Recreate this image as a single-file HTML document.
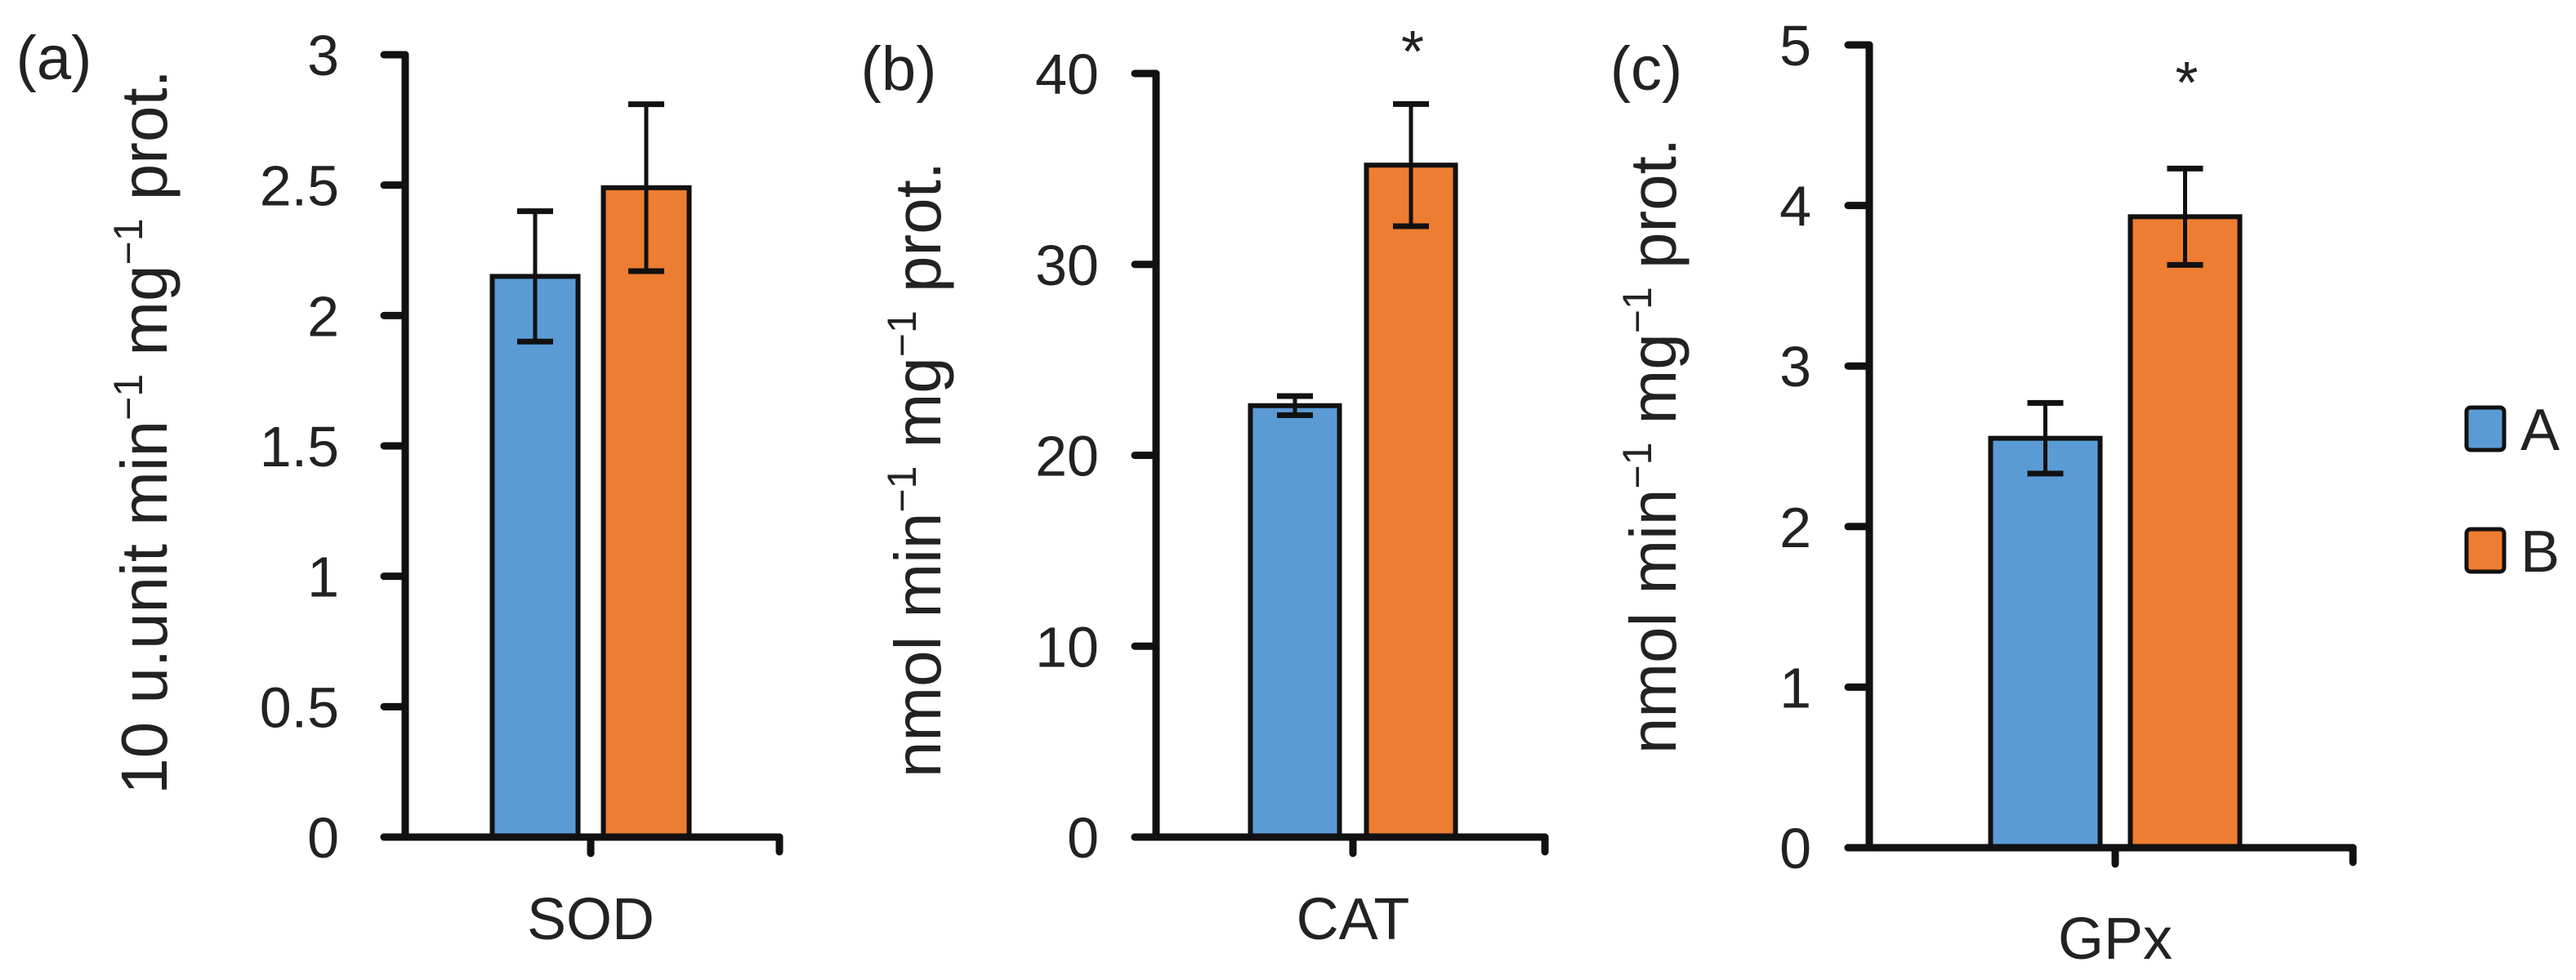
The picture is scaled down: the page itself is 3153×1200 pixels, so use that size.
<!DOCTYPE html>
<html><head><meta charset="utf-8"><style>
html,body{margin:0;padding:0;background:#fff}
svg{display:block}
text{font-family:"Liberation Sans","DejaVu Sans",sans-serif;fill:#222}
</style></head><body>
<svg id="chart" width="3153" height="1200" viewBox="0 0 3153 1200" xmlns="http://www.w3.org/2000/svg"></svg>
<script>
const panelNames = ["SOD","CAT","GPx"];
const panelLetters = ["(a)","(b)","(c)"];
const seriesNames = ["A","B"];
const valuesA = [2.15, 22.6, 2.55];
const valuesB = [2.49, 35.2, 3.93];
const errA = [0.25, 0.5, 0.22];
const errB = [0.32, 3.2, 0.3];
const yMax = [3, 40, 5];
const tickLabelsA = ["0","0.5","1","1.5","2","2.5","3"];
const tickLabelsB = ["0","10","20","30","40"];
const tickLabelsC = ["0","1","2","3","4","5"];
const tickSets = [tickLabelsA, tickLabelsB, tickLabelsC];
const significant = [false, true, true];
const yTitles = ["10 u.unit min","nmol min","nmol min"];

const colors = ["#5b9bd5","#ed7d31"];
const layout = [
  {ax:496, top:67, zero:1025, right:954, mid:723, bw:105, gap:27, lx:66, ly:97, tx:176, ty:529, tlab:415, xly:1150, sy:0},
  {ax:1415, top:90, zero:1025, right:1891, mid:1656, bw:109, gap:29, lx:1100, ly:110, tx:1123, ty:575, tlab:1345, xly:1150, sy:88},
  {ax:2288, top:55, zero:1038, right:2880, mid:2589, bw:134, gap:33, lx:2015, ly:110, tx:2023, ty:546, tlab:2217, xly:1174, sy:126}
];
const svg = document.getElementById('chart');
const NS = "http://www.w3.org/2000/svg";
function mk(tag, attrs, parent){const e=document.createElementNS(NS,tag);for(const k in attrs)e.setAttribute(k,attrs[k]);(parent||svg).appendChild(e);return e;}

panelNames.forEach((name,i)=>{
  const L = layout[i];
  const g = mk('g',{});
  
  
  const y = v => L.zero - v/yMax[i]*(L.zero-L.top);
  const vals=[valuesA[i],valuesB[i]], errs=[errA[i],errB[i]];
  const xs=[L.mid - L.gap/2 - L.bw/2 - 2, L.mid + L.gap/2 + L.bw/2 + 2];
  vals.forEach((v,j)=>{
    const r = mk('rect',{x:xs[j]-L.bw/2,y:y(v),width:L.bw,height:L.zero-y(v),fill:colors[j],stroke:'#111','stroke-width':6},g);
    
    
    const eg = mk('g',{stroke:'#111','stroke-width':5},g);
    
    
    mk('line',{x1:xs[j],x2:xs[j],y1:y(v+errs[j]),y2:y(v-errs[j])},eg);
    mk('line',{x1:xs[j]-22,x2:xs[j]+22,y1:y(v+errs[j]),y2:y(v+errs[j]),'stroke-width':7},eg);
    mk('line',{x1:xs[j]-22,x2:xs[j]+22,y1:y(v-errs[j]),y2:y(v-errs[j]),'stroke-width':7},eg);
  });
  if(significant[i]){
    const s = mk('text',{x:xs[1]+2,y:L.sy,'text-anchor':'middle','font-size':72},g);
    s.textContent='*';
    
    
  }
  const ax = mk('g',{stroke:'#111','stroke-width':9,fill:'none','stroke-linecap':'round'},g);
  
  
  mk('line',{x1:L.ax,x2:L.ax,y1:L.top,y2:L.zero},ax);
  mk('line',{x1:L.ax-26,x2:L.right,y1:L.zero,y2:L.zero},ax);
  mk('line',{x1:L.right,x2:L.right,y1:L.zero,y2:L.zero+18},ax);
  mk('line',{x1:L.mid,x2:L.mid,y1:L.zero,y2:L.zero+20},ax);
  tickSets[i].forEach(t=>{
    const v=parseFloat(t);
    mk('line',{x1:L.ax-26,x2:L.ax,y1:y(v),y2:y(v)},ax);
    const tl = mk('text',{x:L.tlab,y:y(v)+25,'text-anchor':'end','font-size':70},g);
    tl.textContent=t;
    
    
  });
  const xl = mk('text',{x:L.mid,y:L.xly,'text-anchor':'middle','font-size':72},g);
  xl.textContent=name;
  
  
  const pl = mk('text',{x:L.lx,y:L.ly,'text-anchor':'middle','font-size':76},g);
  pl.textContent=panelLetters[i];
  
  
  const yt = mk('text',{x:0,y:0,'text-anchor':'middle','font-size':80,transform:'translate('+(L.tx+28)+','+L.ty+') rotate(-90)'},g);
  
  
  yt.appendChild(document.createTextNode(yTitles[i]));
  const s1=mk('tspan',{dy:-30,'font-size':50},yt); s1.textContent='−1';
  const s2=mk('tspan',{dy:30},yt); s2.textContent=' mg';
  const s3=mk('tspan',{dy:-30,'font-size':50},yt); s3.textContent='−1';
  const s4=mk('tspan',{dy:30},yt); s4.textContent=' prot.';
});
const lg = mk('g',{});


const legY=[525,674];
seriesNames.forEach((s,j)=>{
  const e = mk('g',{},lg);
  
  
  mk('rect',{x:3019,y:legY[j]-26,width:46,height:52,rx:5,fill:colors[j],stroke:'#111','stroke-width':5},e);
  const t=mk('text',{x:3085,y:legY[j]+26,'font-size':72},e);
  t.textContent=s;
});
</script>
</body></html>
